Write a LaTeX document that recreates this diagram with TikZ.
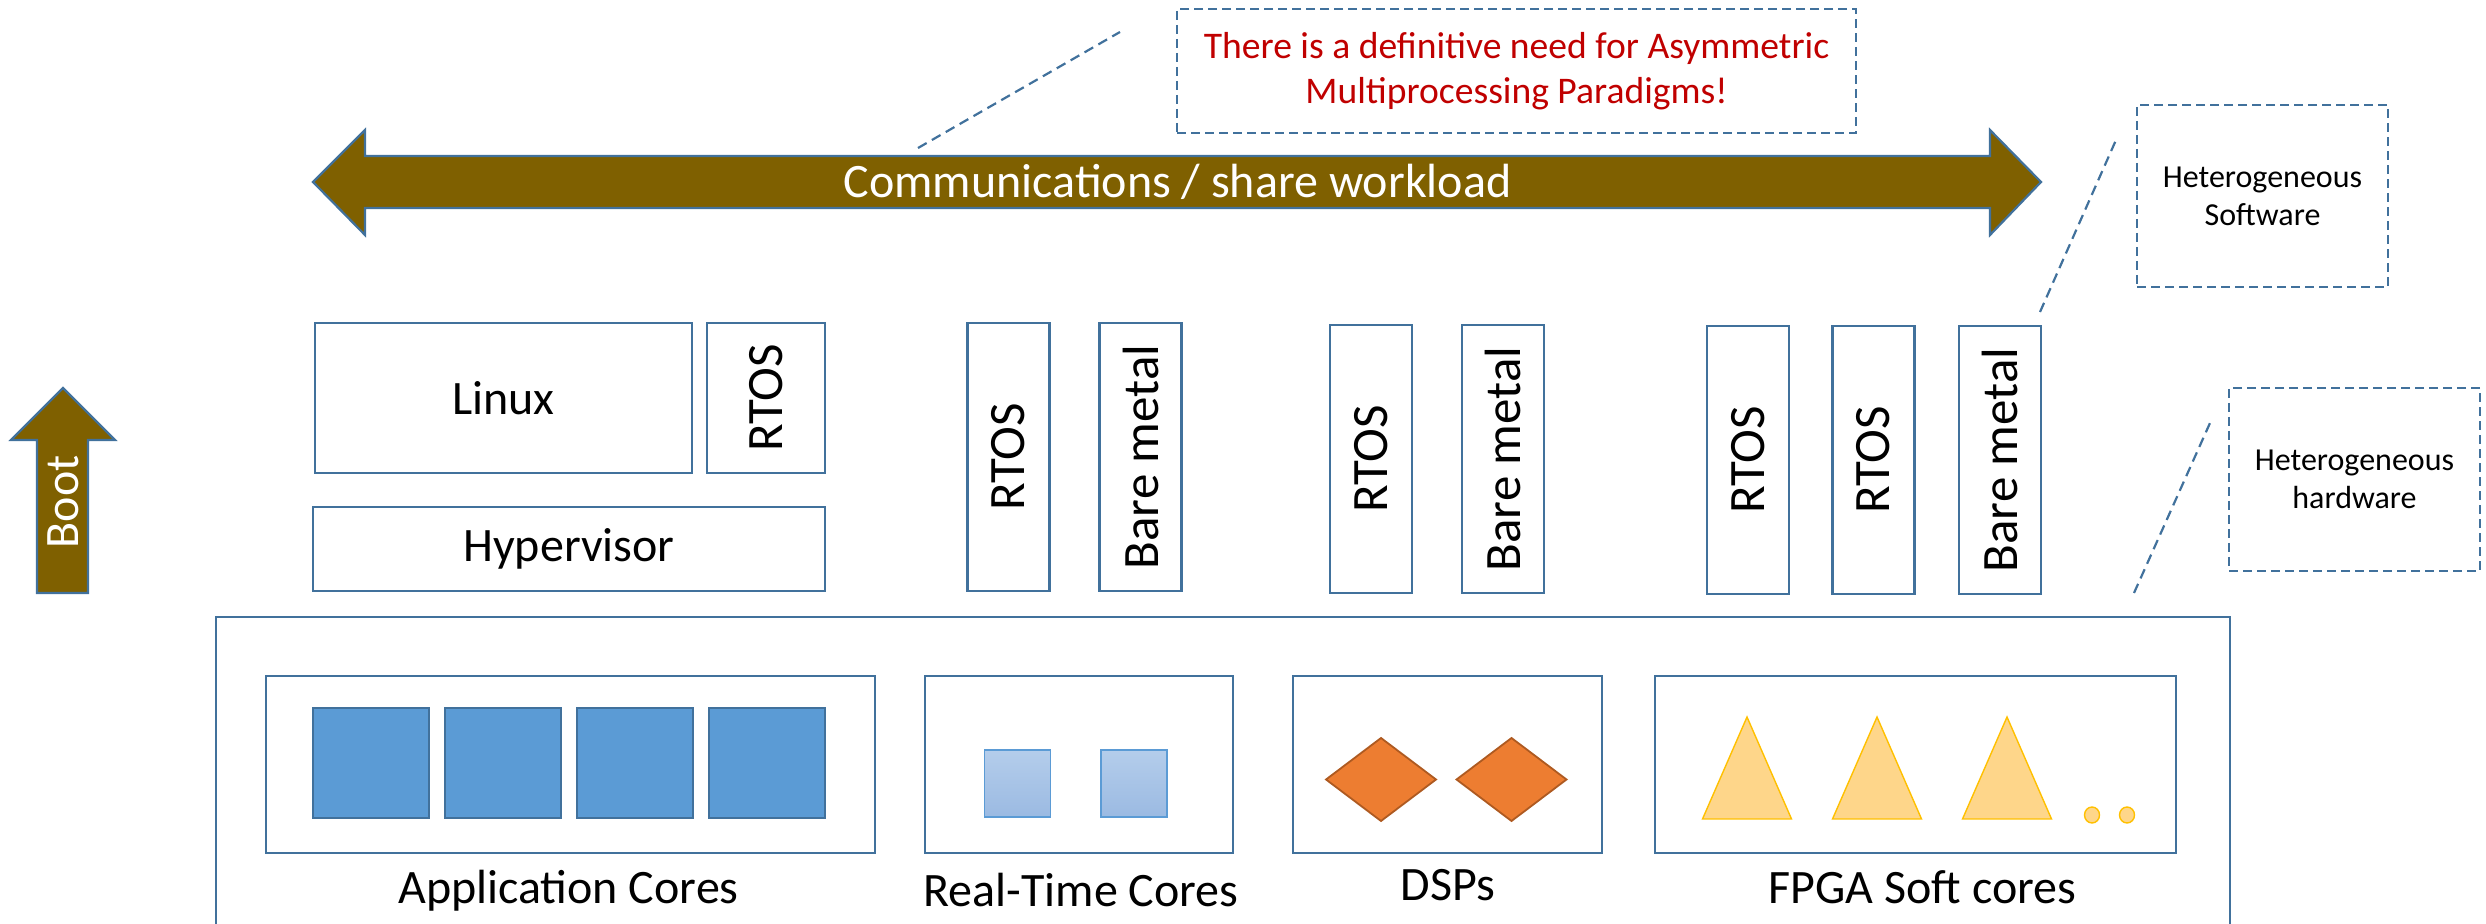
\documentclass[tikz,border=0pt]{standalone}
\usepackage{fontspec}
\setmainfont{Carlito}
\definecolor{edge}{RGB}{65,113,156}
\definecolor{bootbrown}{RGB}{127,96,0}
\definecolor{appblue}{RGB}{91,155,213}
\definecolor{rtedge}{RGB}{91,155,213}
\definecolor{rttop}{RGB}{180,205,235}
\definecolor{rtbot}{RGB}{155,186,226}
\definecolor{dsporange}{RGB}{237,125,49}
\definecolor{dspedge}{RGB}{174,90,33}
\definecolor{fpgafill}{RGB}{254,214,138}
\definecolor{fpgaedge}{RGB}{255,192,0}
\definecolor{msgred}{RGB}{192,0,0}
\begin{document}
\begin{tikzpicture}[x=0.5pt,y=-0.5pt,
    box/.style={draw=edge, line width=1.1pt, inner sep=0pt, outer sep=0pt},
    osbox/.style={box, rotate=90, minimum width=134pt, minimum height=41pt,
      font=\fontsize{25.5}{30}\selectfont},
    hwbox/.style={box, minimum height=88.5pt},
    appcore/.style={draw=edge, line width=0.9pt, fill=appblue, minimum width=58pt,
      minimum height=55pt, inner sep=0pt},
    rtcore/.style={draw=rtedge, line width=0.7pt, top color=rttop, bottom color=rtbot,
      minimum width=33pt, minimum height=33.5pt, inner sep=0pt},
    dsp/.style={draw=dspedge, line width=0.9pt, fill=dsporange},
    fpga/.style={draw=fpgaedge, line width=0.7pt, fill=fpgafill},
    note/.style={draw=edge, line width=1.2pt, dash pattern=on 4.5pt off 2.5pt,
      align=center, inner sep=0pt},
    callout/.style={draw=edge, line width=1.1pt, dash pattern=on 5pt off 3pt},
    bigarrow/.style={draw=edge, line width=1.1pt, fill=bootbrown},
    lbl/.style={anchor=base, inner sep=0pt, font=\fontsize{24}{29}\selectfont}]
  \useasboundingbox (0,0) rectangle (2486,924);

  % boot and communication arrows
  \draw[bigarrow] (63,388) -- (115,440) -- (88,440) -- (88,593) -- (37,593)
    -- (37,440) -- (11,440) -- cycle;
  \node[rotate=90, text=white, font=\fontsize{24}{29}\selectfont] (boot) at (63,502) {Boot};
  \draw[bigarrow] (313,182) -- (365,130) -- (365,156) -- (1990,156) -- (1990,130)
    -- (2041,182) -- (1990,235) -- (1990,208) -- (365,208) -- (365,235) -- cycle;
  \node[anchor=base, inner sep=0pt, text=white, font=\fontsize{24}{29}\selectfont]
    (comm) at (1177.5,198) {Communications / share workload};

  % software
  \draw
    (503.5,398) node[box, minimum width=188.5pt, minimum height=75pt,
      font=\fontsize{24}{29}\selectfont] (linux) {Linux}
    (766,398) node[osbox, minimum width=75pt, minimum height=59pt] (rtos0) {RTOS}
    (569,549) node[box, minimum width=256pt, minimum height=42pt,
      font=\fontsize{24}{29}\selectfont] (hyper) {Hypervisor}
    (1008.5,457) node[osbox] (rtos1) {RTOS}
    (1140.5,457) node[osbox] (bare1) {Bare metal}
    (1371,459) node[osbox] (rtos2) {RTOS}
    (1503,459) node[osbox] (bare2) {Bare metal}
    (1748,460) node[osbox] (rtos3) {RTOS}
    (1873.5,460) node[osbox] (rtos4) {RTOS}
    (2000,460) node[osbox] (bare3) {Bare metal};

  % hardware
  \draw[box] (216,924) -- (216,617) -- (2230,617) -- (2230,924);
  \draw
    (570.5,764.5) node[hwbox, minimum width=304.5pt] (appcores) {}
    (1079,764.5) node[hwbox, minimum width=154pt] (rtcores) {}
    (1447.5,764.5) node[hwbox, minimum width=154.5pt] (dsps) {}
    (1915.5,764.5) node[hwbox, minimum width=260.5pt] (fpgas) {};
  \foreach \x [count=\i] in {371,503,635,767}
    \node[appcore] (app\i) at (\x,763) {};
  \foreach \x [count=\i] in {1017.5,1134}
    \node[rtcore] (rt\i) at (\x,783.5) {};
  \foreach \x in {1381,1511.5}
    \draw[dsp] (\x,738) -- ++(55,41.5) -- ++(-55,41.5) -- ++(-55,-41.5) -- cycle;
  \foreach \x in {1747,1877,2007}
    \draw[fpga] (\x,717) -- ++(44.5,102) -- ++(-89,0) -- cycle;
  \foreach \x in {2092,2127}
    \draw[fpga] (\x,815) circle [x radius=7.5, y radius=8];
  \node[lbl] (applbl) at (568.5,903) {Application Cores};
  \node[lbl] (rtlbl) at (1081,906) {Real-Time Cores};
  \node[lbl] (dsplbl) at (1448,900) {DSPs};
  \node[lbl] (fpgalbl) at (1922.5,903) {FPGA Soft cores};

  % notes
  \node[note, minimum width=339.5pt, minimum height=62pt, text=msgred,
    font=\fontsize{18.8}{22.5}\selectfont] (msg) at (1516.5,71)
    {There is a definitive need for Asymmetric\\Multiprocessing Paradigms!};
  \node[note, minimum width=125.5pt, minimum height=91pt,
    font=\fontsize{16}{19}\selectfont] (hetsw) at (2262.5,196) {Heterogeneous\\Software};
  \node[note, minimum width=125.5pt, minimum height=91.5pt,
    font=\fontsize{16}{19}\selectfont] (hethw) at (2354.5,479.5) {Heterogeneous\\hardware};
  \coordinate (m1) at (918,148);
  \coordinate (m2) at (1120,32);
  \coordinate (s1) at (2040,312);
  \coordinate (s2) at (2116,140);
  \coordinate (h1) at (2134,593);
  \coordinate (h2) at (2210,423);
  \begin{scope}[callout]
    \draw (m1) to (m2);
    \draw (s1) to (s2);
    \draw (h1) to (h2);
  \end{scope}
\end{tikzpicture}
\end{document}
